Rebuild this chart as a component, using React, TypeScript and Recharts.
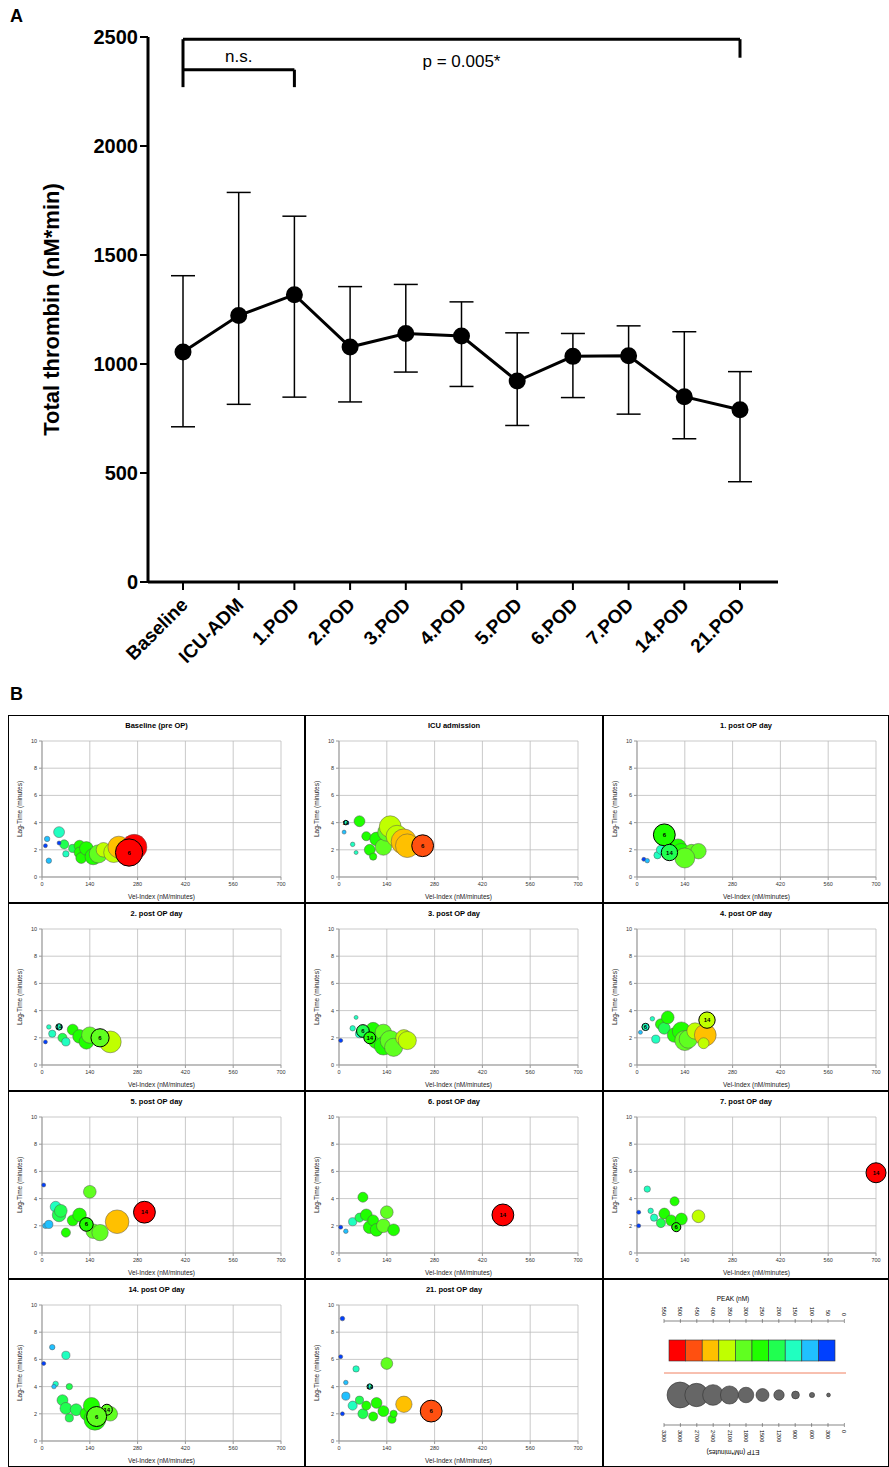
import React from 'react';
import { LineChart, Line, XAxis, YAxis, ErrorBar, ReferenceLine, ScatterChart, Scatter, CartesianGrid } from 'recharts';

const categories = ['Baseline','ICU-ADM','1.POD','2.POD','3.POD','4.POD','5.POD','6.POD','7.POD','14.POD','21.POD'];
const means = [1055,1222,1318,1078,1140,1128,922,1035,1038,850,790];
const lows = [712,815,848,826,963,897,718,846,770,657,460];
const highs = [1405,1787,1678,1355,1365,1285,1143,1140,1175,1148,965];
const yTicksA = [0,500,1000,1500,2000,2500];

const panelTitles = ['Baseline (pre OP)','ICU admission','1. post OP day','2. post OP day','3. post OP day','4. post OP day','5. post OP day','6. post OP day','7. post OP day','14. post OP day','21. post OP day'];
type P = [number, number, number, number, string?];
const baseline: P[] = [[10,2.3,300,60],[15,2.8,600,90],[20,1.2,600,80],[50,3.3,1200,170],[65,2.4,1000,180],[50,2.5,400,30],[70,1.7,700,160],[90,2.1,900,200],[110,2.3,1200,230],[110,1.8,1200,240],[115,1.4,1200,260],[130,2.1,1500,250],[150,1.5,1800,270],[165,1.7,2000,310],[180,2.0,1600,340],[210,1.8,2200,350],[225,2.2,2400,400],[270,2.2,2800,480],[255,1.8,3000,500,'6']];
const icu: P[] = [[15,3.3,300,120],[20,4.0,500,150,'14'],[40,2.4,500,150],[50,1.8,400,160],[60,4.1,1200,240],[80,3.0,1000,230],[90,2.0,1200,260],[100,1.5,800,250],[110,2.8,1500,260],[130,2.2,1800,280],[140,3.3,2000,300],[150,3.7,2400,340],[170,3.0,2400,330],[190,2.6,2800,380],[200,2.3,2600,400],[245,2.3,2400,460,'6']];
const pod1: P[] = [[20,1.3,400,40],[30,1.2,500,90],[60,1.6,800,140],[70,2.0,1000,170],[120,2.2,1800,270],[130,1.8,2000,260],[160,1.9,1500,320],[180,1.9,1700,300],[140,1.4,2200,300],[80,3.1,2400,260,'6'],[95,1.8,1800,220,'14']];
const pod2: P[] = [[10,1.7,300,50],[20,2.8,500,140],[30,2.3,800,160],[60,2.0,1000,220],[70,1.7,900,170],[90,2.6,1200,230],[110,2.1,1500,250],[130,1.7,1600,260],[140,2.2,1800,280],[200,1.7,2400,350],[50,2.8,700,170,'14'],[170,2.0,2000,300,'6']];
const pod3: P[] = [[5,1.8,300,50],[40,2.7,600,130],[50,3.5,300,150],[60,2.3,900,160],[100,2.6,1600,250],[110,1.8,1800,270],[130,2.4,1800,300],[130,1.4,2000,260],[150,1.8,2200,280],[160,1.3,2000,300],[190,2.0,1800,330],[200,1.8,2000,340],[70,2.5,1400,180,'6'],[90,2.0,1300,230,'14']];
const pod4: P[] = [[10,2.4,400,80],[45,3.4,500,150],[55,1.9,900,170],[70,3.0,1200,230],[80,2.7,1300,220],[90,3.5,1400,240],[110,2.2,1600,240],[130,2.5,2000,260],[140,1.8,2200,280],[150,1.9,2000,290],[170,2.5,1800,330],[200,2.2,2400,410],[195,1.6,1200,340],[25,2.8,800,130,'6'],[205,3.3,1800,360,'14']];
const pod5: P[] = [[5,5.0,300,60],[10,2.0,600,90],[20,2.1,900,110],[40,3.4,1200,170],[50,2.8,1500,200],[55,3.1,1400,210],[70,1.5,1000,230],[90,2.4,1200,240],[110,2.8,1500,270],[140,4.5,1400,300],[150,1.6,1600,280],[170,1.5,1800,300],[220,2.3,2600,400],[130,2.1,1500,260,'6'],[300,3.0,2400,500,'14']];
const pod6: P[] = [[5,1.9,300,60],[20,1.6,500,100],[40,2.3,900,160],[60,2.6,1000,200],[70,4.1,1100,250],[80,2.8,1300,240],[90,1.9,1400,260],[100,2.4,1200,240],[110,1.7,1400,260],[130,2.0,1500,280],[140,3.0,1400,300],[160,1.7,1300,270],[480,2.8,2400,500,'14']];
const pod7: P[] = [[5,2.0,300,50],[5,3.0,300,50],[30,4.7,700,130],[40,3.1,600,160],[50,2.6,800,170],[70,2.2,1000,210],[80,2.9,1200,240],[100,2.4,1200,250],[110,3.8,1000,270],[130,2.5,1300,270],[180,2.7,1400,340],[115,1.9,1000,240,'6'],[700,5.9,2200,500,'14']];
const pod14: P[] = [[5,5.7,300,60],[30,6.9,600,120],[40,4.2,600,140],[35,4.0,500,80],[70,6.3,900,170],[80,4.0,700,180],[60,3.0,1200,200],[70,2.4,1300,200],[80,1.7,900,190],[100,2.3,1300,220],[130,2.0,1400,240],[145,2.6,1800,260],[155,1.6,2400,270],[200,2.0,1600,310],[190,2.3,1200,280,'14'],[160,1.8,2200,300,'6']];
const pod21: P[] = [[10,9.0,500,50],[5,6.2,400,50],[10,2.0,300,50],[20,4.3,500,100],[20,3.3,900,90],[40,2.6,1000,150],[50,5.3,700,160],[60,3.0,900,180],[70,2.0,1100,190],[80,2.6,1000,230],[100,1.8,1000,240],[110,2.8,1200,240],[130,2.2,1200,260],[140,5.7,1300,300],[155,1.6,900,250],[160,2.0,800,270],[190,2.7,1800,420],[90,4.0,600,160,'14'],[270,2.2,2400,470,'6']];
const panels = [baseline, icu, pod1, pod2, pod3, pod4, pod5, pod6, pod7, pod14, pod21];
const velTicks = [0,140,280,420,560,700];
const lagTicks = [0,2,4,6,8,10];
const peakColors = ['#0040ff','#20c0ff','#20ffc0','#20ff50','#20ff00','#60ff20','#c0ff00','#ffc000','#ff5010','#ff0000'];
const peakLegend = [550,500,450,400,350,300,250,200,150,100,50,0];
const etpLegend = [3300,3000,2700,2400,2100,1800,1500,1200,900,600,300,0];

const colorOf = (peak: number) => peakColors[Math.max(0, Math.min(9, Math.round(peak / 50) - 1))];
const rOf = (etp: number) => Math.max(2, etp / 220);

const dataA = categories.map((c, i) => ({ c, v: means[i], err: [means[i] - lows[i], highs[i] - means[i]] }));

const XTick = (p: any) => (
  <text x={p.x + 6} y={p.y + 14} transform={`rotate(-45 ${p.x + 6} ${p.y + 14})`} textAnchor="end" fontSize={19} fontWeight="bold" fontFamily="Arial, Liberation Sans" fill="#000">{p.payload.value}</text>
);

const Bubble = (p: any) => {
  const d = p.payload;
  const r = rOf(d.etp);
  const lab = !!d.label;
  return (
    <g>
      <circle cx={p.cx} cy={p.cy} r={r} fill={colorOf(d.peak)} stroke={lab ? '#000' : '#555'} strokeWidth={lab ? 1 : 0.5} />
      {lab && <text x={p.cx} y={p.cy + 2} textAnchor="middle" fontSize={6} fontWeight="bold" fontFamily="Arial">{d.label}</text>}
    </g>
  );
};

const colX = [8, 305, 603];
const colW = [297, 298, 286];
const rowY = [715, 903, 1091, 1279];
const font = 'Arial, Liberation Sans, sans-serif';

export default function App() {
  return (
    <div style={{ position: 'absolute', left: 0, top: 0, width: 889, height: 1467, background: '#fff', fontFamily: font }}>
      <div style={{ position: 'absolute', left: 10, top: 6, fontSize: 18, fontWeight: 'bold' }}>A</div>
      <div style={{ position: 'absolute', left: 10, top: 684, fontSize: 18, fontWeight: 'bold' }}>B</div>
      <div style={{ position: 'absolute', left: 0, top: 0 }}>
        <LineChart width={800} height={700} data={dataA} margin={{ top: 37, right: 22, left: 58, bottom: 0 }}>
          <XAxis dataKey="c" padding={{ left: 35, right: 38 }} tick={<XTick />} interval={0} stroke="#000" strokeWidth={3} tickLine={{ strokeWidth: 2 }} tickSize={8} height={118} />
          <YAxis domain={[0, 2500]} ticks={yTicksA} width={90} stroke="#000" strokeWidth={3} tickLine={{ strokeWidth: 2 }} tickSize={8}
            tick={{ fontSize: 20, fontWeight: 'bold', fill: '#000', fontFamily: font }}
            label={{ value: 'Total thrombin (nM*min)', angle: -90, position: 'insideLeft', dx: -12, dy: 0, style: { textAnchor: 'middle', fontSize: 22, fontWeight: 'bold', fill: '#000', fontFamily: font } }} />
          <ReferenceLine segment={[{ x: 'Baseline', y: 2490 }, { x: '21.POD', y: 2490 }]} stroke="#000" strokeWidth={3} label={{ value: 'p = 0.005*', position: 'center', dy: 22, fontSize: 17, fill: '#000', fontFamily: font }} />
          <ReferenceLine segment={[{ x: 'Baseline', y: 2490 }, { x: 'Baseline', y: 2270 }]} stroke="#000" strokeWidth={3} />
          <ReferenceLine segment={[{ x: '21.POD', y: 2490 }, { x: '21.POD', y: 2405 }]} stroke="#000" strokeWidth={3} />
          <ReferenceLine segment={[{ x: 'Baseline', y: 2350 }, { x: '1.POD', y: 2350 }]} stroke="#000" strokeWidth={3} label={{ value: 'n.s.', position: 'center', dy: -14, fontSize: 17, fill: '#000', fontFamily: font }} />
          <ReferenceLine segment={[{ x: '1.POD', y: 2350 }, { x: '1.POD', y: 2270 }]} stroke="#000" strokeWidth={3} />
          <Line dataKey="v" stroke="#000" strokeWidth={3} isAnimationActive={false} dot={{ r: 7, fill: '#000', stroke: '#000' }}>
            <ErrorBar dataKey="err" width={12} stroke="#000" strokeWidth={1.5} />
          </Line>
        </LineChart>
      </div>
      {panels.map((pts, i) => {
        const col = i % 3, row = Math.floor(i / 3);
        const data = pts.map(p => ({ x: p[0], y: p[1], etp: p[2], peak: p[3], label: p[4] }))
          .sort((a, b) => (a.label ? 1 : 0) - (b.label ? 1 : 0));
        return (
          <div key={i} style={{ position: 'absolute', left: colX[col], top: rowY[row], width: colW[col], height: 188 }}>
            <div style={{ position: 'absolute', top: 6, width: '100%', textAlign: 'center', fontSize: 7.5, fontWeight: 'bold' }}>{panelTitles[i]}</div>
            <ScatterChart width={colW[col]} height={188} margin={{ top: 26, right: colW[col] - 273, left: 0, bottom: 0 }}>
              <CartesianGrid stroke="#bbb" strokeWidth={0.8} />
              <XAxis type="number" dataKey="x" domain={[0, 700]} ticks={velTicks} stroke="#999" tickSize={3} height={26}
                tick={{ fontSize: 5.5, fill: '#333' }}
                label={{ value: 'Vel-Index (nM/minutes)', position: 'insideBottom', offset: 4, fontSize: 6.5, fill: '#222' }} />
              <YAxis type="number" dataKey="y" domain={[0, 10]} ticks={lagTicks} stroke="#999" tickSize={3} width={34}
                tick={{ fontSize: 5.5, fill: '#333' }}
                label={{ value: 'Lag-Time (minutes)', angle: -90, position: 'insideLeft', offset: 12, style: { textAnchor: 'middle', fontSize: 6.5, fill: '#222' } }} />
              <Scatter data={data} shape={<Bubble />} isAnimationActive={false} />
            </ScatterChart>
          </div>
        );
      })}
      <div style={{ position: 'absolute', left: 603, top: 1279, width: 286, height: 188 }}>
        <svg width={286} height={188} style={{ position: 'absolute', left: 0, top: 0 }}>
          <text x={130} y={22} textAnchor="middle" fontSize={6.5} fontFamily={font}>PEAK (nM)</text>
          <line x1={61} x2={241} y1={42} y2={42} stroke="#555" strokeWidth={0.7} />
          {peakLegend.map((v, k) => {
            const x = 61 + k * 16.4;
            return <g key={k}><line x1={x} x2={x} y1={40} y2={44} stroke="#555" strokeWidth={0.6} />
              <text x={x} y={37} transform={`rotate(90 ${x} 37)`} textAnchor="end" dy={2} fontSize={5.5} fontFamily={font}>{v}</text></g>;
          })}
          {peakColors.slice().reverse().map((c, k) => (
            <rect key={k} x={66 + k * 16.6} y={61} width={16.6} height={21} fill={c} stroke="#333" strokeWidth={0.6} />
          ))}
          <line x1={61} x2={243} y1={94} y2={94} stroke="#f08060" strokeWidth={1} />
          {etpLegend.slice(1, 11).map((v, k) => {
            const x = 77 + k * 16.5;
            return <circle key={k} cx={x} cy={116} r={Math.min(13, rOf(v) * 0.95)} fill="#666" stroke="#333" strokeWidth={0.6} />;
          })}
          <line x1={61} x2={241} y1={146} y2={146} stroke="#555" strokeWidth={0.7} />
          {etpLegend.map((v, k) => {
            const x = 61 + k * 16.4;
            return <g key={k}><line x1={x} x2={x} y1={144} y2={148} stroke="#555" strokeWidth={0.6} />
              <text x={x} y={151} transform={`rotate(90 ${x} 151)`} textAnchor="start" dy={2} fontSize={5.5} fontFamily={font}>{v}</text></g>;
          })}
          <text x={130} y={175} transform="rotate(180 130 173)" textAnchor="middle" fontSize={6.5} fontFamily={font}>ETP (nM*minutes)</text>
        </svg>
      </div>
      {rowY.map((y, r) => colX.map((x, c) => (
        <div key={`${r}-${c}`} style={{ position: 'absolute', left: x, top: y, width: colW[c], height: 188, boxSizing: 'border-box', border: '1.5px solid #000' }} />
      )))}
    </div>
  );
}
